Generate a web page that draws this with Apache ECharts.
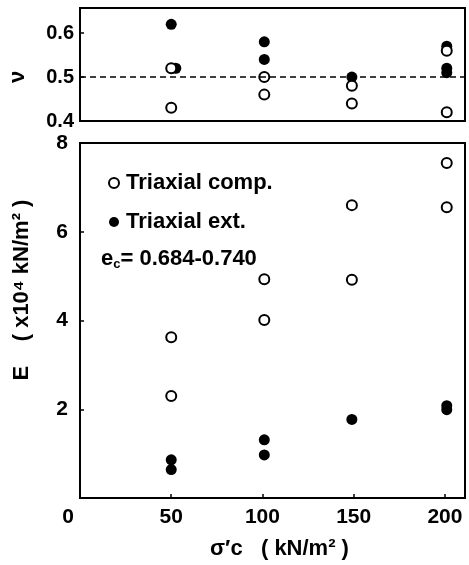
<!DOCTYPE html>
<html>
<head>
<meta charset="utf-8">
<script src="https://cdn.jsdelivr.net/npm/echarts@6/dist/echarts.min.js"></script>
<style>
  html, body { margin: 0; padding: 0; background: #fff; }
  #chart { width: 469px; height: 565px; }
</style>
</head>
<body>
<div id="chart"></div>
<script>
// Data: [confining stress, value]
const nuComp = [[50, 0.52], [50, 0.43], [101, 0.50], [101, 0.46], [149, 0.48], [149, 0.44], [201, 0.56], [201, 0.42]];
const nuExt = [[50, 0.62], [52.5, 0.52], [101, 0.58], [101, 0.54], [149, 0.50], [201, 0.57], [201, 0.52], [201, 0.51]];
const eComp = [[50, 3.62], [50, 2.30], [101, 4.93], [101, 4.01], [149, 6.60], [149, 4.92], [201, 7.55], [201, 6.55]];
const eExt = [[50, 0.86], [50, 0.64], [101, 1.31], [101, 0.97], [149, 1.77], [201, 2.08], [201, 1.99]];
const seriesNames = ['Triaxial comp.', 'Triaxial ext.'];
const nuRef = 0.5;

const chart = echarts.init(document.getElementById('chart'));
const font = 'Liberation Sans';

const xCommon = {
    type: 'value',
    min: 0,
    max: 211,
    interval: 50,
    splitLine: { show: false },
    axisLine: { show: true, lineStyle: { color: '#000', width: 2 } },
    axisTick: { show: true, inside: true, length: 4, lineStyle: { color: '#000', width: 1.5 } }
};
const yCommon = {
    type: 'value',
    splitLine: { show: false },
    axisLine: { show: true, lineStyle: { color: '#000', width: 2 } },
    axisTick: { show: true, inside: true, length: 4, lineStyle: { color: '#000', width: 1.5 } }
};

const openStyle = { color: '#fff', borderColor: '#000', borderWidth: 2, opacity: 1 };
const fillStyle = { color: '#000', opacity: 1 };

var option = {
    animation: false,
    textStyle: { fontFamily: font },
    grid: [
        { left: 80, right: 4, top: 8, height: 113, show: true, borderColor: '#000', borderWidth: 2 },
        { left: 80, right: 4, top: 143, bottom: 62, show: true, borderColor: '#000', borderWidth: 2 }
    ],
    xAxis: [
        Object.assign({}, xCommon, { gridIndex: 0, axisLabel: { show: false }, axisTick: { show: false } }),
        Object.assign({}, xCommon, {
            gridIndex: 1,
            axisLabel: {
                showMaxLabel: false,
                margin: 9,
                fontSize: 21,
                fontWeight: 'bold',
                color: '#000',
                formatter: function (v) { return v === 0 ? '{z|0}' : String(v); },
                rich: { z: { fontSize: 21, fontWeight: 'bold', color: '#000', padding: [0, 24, 0, 0] } }
            },
            name: 'σ\u2032c   ( kN/m\u00b2 )',
            nameLocation: 'middle',
            nameGap: 40,
            nameTextStyle: { fontSize: 22, fontWeight: 'bold', color: '#000', padding: [0, 0, 0, 14] }
        })
    ],
    yAxis: [
        Object.assign({}, yCommon, {
            gridIndex: 0, min: 0.4, max: 0.657, interval: 0.1,
            axisLabel: { showMaxLabel: false, margin: 6, fontSize: 20, fontWeight: 'bold', color: '#000',
                formatter: function (v) { return v.toFixed(1); } }
        }),
        Object.assign({}, yCommon, {
            gridIndex: 1, min: 0, max: 8, interval: 2,
            axisLabel: { showMinLabel: false, margin: 12, fontSize: 21, fontWeight: 'bold', color: '#000' }
        })
    ],
    legend: {
        orient: 'vertical',
        left: 103,
        top: 167,
        itemGap: 17,
        itemWidth: 10,
        itemHeight: 10,
        data: seriesNames,
        textStyle: { fontSize: 22, fontWeight: 'bold', color: '#000', padding: [0, 0, 0, 2] }
    },
    graphic: [
        {
            type: 'text', left: 101, top: 248,
            style: {
                text: '{b|e}{s|c}{b|= 0.684-0.740}',
                rich: {
                    b: { fontSize: 22, fontWeight: 'bold', fontFamily: font, fill: '#000' },
                    s: { fontSize: 13, fontWeight: 'bold', fontFamily: font, fill: '#000', padding: [11, 0, 0, 0] }
                }
            }
        },
        {
            type: 'text', x: 22, y: 290, rotation: Math.PI / 2,
            style: { text: 'E    ( x10\u2074 kN/m\u00b2 )', fontSize: 22, fontWeight: 'bold', fontFamily: font,
                fill: '#000', align: 'center', verticalAlign: 'middle' }
        },
        {
            type: 'text', x: 18, y: 77, rotation: Math.PI / 2,
            style: { text: 'ν', fontSize: 22, fontWeight: 'bold', fontFamily: font,
                fill: '#000', align: 'center', verticalAlign: 'middle' }
        }
    ],
    series: [
        {
            name: seriesNames[0], type: 'scatter', xAxisIndex: 0, yAxisIndex: 0,
            data: nuComp, symbol: 'circle', symbolSize: 10, itemStyle: openStyle, z: 3,
            markLine: {
                silent: true, symbol: 'none', label: { show: false },
                lineStyle: { color: '#000', type: [6, 4], width: 1.5 },
                data: [{ yAxis: nuRef }]
            }
        },
        {
            name: seriesNames[1], type: 'scatter', xAxisIndex: 0, yAxisIndex: 0,
            data: nuExt, symbol: 'circle', symbolSize: 11, itemStyle: fillStyle, z: 2
        },
        {
            name: seriesNames[0], type: 'scatter', xAxisIndex: 1, yAxisIndex: 1,
            data: eComp, symbol: 'circle', symbolSize: 10, itemStyle: openStyle, z: 3
        },
        {
            name: seriesNames[1], type: 'scatter', xAxisIndex: 1, yAxisIndex: 1,
            data: eExt, symbol: 'circle', symbolSize: 11, itemStyle: fillStyle, z: 2
        }
    ]
};
chart.setOption(option);
</script>
</body>
</html>
